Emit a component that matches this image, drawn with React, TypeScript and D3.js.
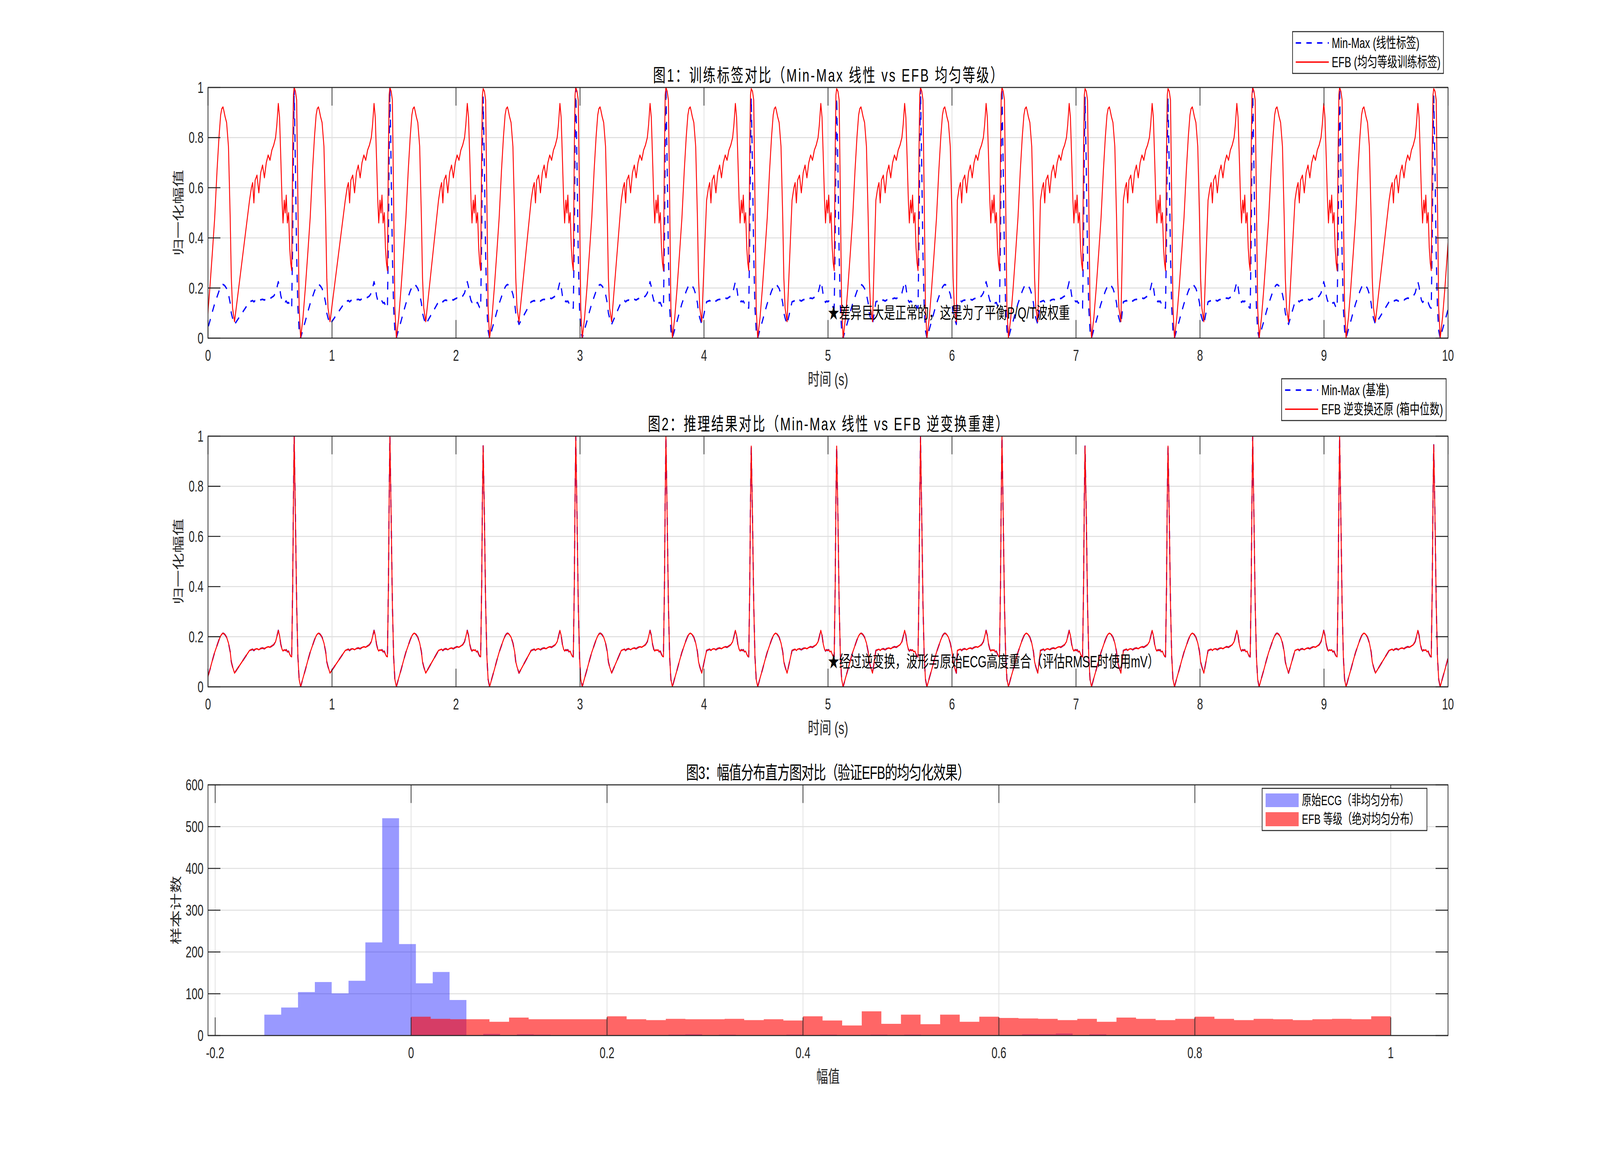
import React from 'react';
import * as d3 from 'd3';

// ---------------- DATA ----------------
// R-peak times (s) of every beat; the first one is the beat just before t=0
const rPeakTimes = [-0.075, 0.695, 1.467, 2.219, 2.966, 3.693, 4.381, 5.07, 5.746, 6.403, 7.073, 7.742, 8.425, 9.126, 9.885];
// normalised (Min-Max) height of every R peak
const rPeakMinMax = [1.0, 1.0, 1.0, 0.961, 1.0, 1.0, 0.96, 0.96, 1.0, 1.0, 0.96, 0.96, 1.0, 1.0, 0.965];
// EFB level at every R peak
const rPeakEfb = [1, 1, 1, 0.995, 1, 1, 0.995, 0.995, 1, 1, 0.995, 0.995, 1, 1, 0.995];

// samples read before each R peak (time offset to the R peak, s)
const preOffsets = [-0.36, -0.345, -0.335, -0.325, -0.315, -0.3, -0.285, -0.27, -0.255, -0.24, -0.225, -0.21, -0.195, -0.18, -0.165, -0.15, -0.14, -0.128, -0.118, -0.108, -0.098, -0.09, -0.08, -0.072, -0.064, -0.055, -0.045, -0.036, -0.028, -0.02, -0.012, -0.006];
const preMinMax = [0.145, 0.148, 0.15, 0.145, 0.15, 0.152, 0.148, 0.153, 0.155, 0.152, 0.157, 0.16, 0.158, 0.163, 0.168, 0.18, 0.2, 0.225, 0.205, 0.17, 0.15, 0.143, 0.148, 0.145, 0.148, 0.14, 0.142, 0.13, 0.122, 0.12, 0.4, 0.75];
const preEfb = [0.55, 0.6, 0.62, 0.54, 0.63, 0.65, 0.58, 0.66, 0.69, 0.64, 0.7, 0.73, 0.71, 0.75, 0.77, 0.8, 0.85, 0.936, 0.88, 0.72, 0.55, 0.46, 0.55, 0.5, 0.57, 0.46, 0.5, 0.36, 0.3, 0.27, 0.75, 0.97];

// samples read after each R peak (time offset to the R peak, s)
const postOffsets = [0.01, 0.02, 0.03, 0.04, 0.052, 0.071, 0.09, 0.11, 0.129, 0.148, 0.164, 0.177, 0.186, 0.196, 0.204, 0.212, 0.225, 0.24, 0.254, 0.263, 0.273, 0.289];
const postMinMax = [0.68, 0.33, 0.12, 0.03, 0.0, 0.035, 0.068, 0.105, 0.138, 0.165, 0.188, 0.203, 0.21, 0.214, 0.212, 0.208, 0.198, 0.175, 0.14, 0.1, 0.08, 0.055];
const postEfb = [0.985, 0.95, 0.55, 0.12, 0.0, 0.082, 0.2, 0.34, 0.48, 0.67, 0.805, 0.89, 0.915, 0.922, 0.905, 0.885, 0.86, 0.765, 0.48, 0.24, 0.12, 0.066];

const timeTicks = [0, 1, 2, 3, 4, 5, 6, 7, 8, 9, 10];
const normTicks = [0, 0.2, 0.4, 0.6, 0.8, 1];

// histogram of the raw ECG (50 bins)
const ecgBinStart = -0.1498;
const ecgBinWidth = 0.017188;
const ecgCounts = [50, 67, 104, 128, 101, 131, 223, 520, 219, 125, 152, 85,
  1, 4, 1, 3, 2, 1, 1, 1, 1, 1, 1, 1, 2, 3, 1, 2, 1, 1, 1, 2, 1, 2, 1, 1, 2, 1, 2, 1, 1, 1, 1, 1, 1, 3, 3, 5, 1, 3];
// histogram of the EFB levels (50 bins on [0,1])
const efbBinStart = 0;
const efbBinWidth = 0.02;
const efbCounts = [45, 40, 39, 39, 33, 43, 39, 39, 39, 39, 46, 39, 37, 40, 39, 39, 40, 37, 39, 36,
  46, 36, 24, 58, 28, 50, 27, 50, 33, 45, 42, 41, 40, 37, 40, 33, 43, 40, 37, 40,
  45, 40, 37, 40, 39, 37, 39, 40, 39, 46];
const histXTicks = [-0.2, 0, 0.2, 0.4, 0.6, 0.8, 1];
const histYTicks = [0, 100, 200, 300, 400, 500, 600];
const histXDomain = [-0.2073, 1.0584];

const titles = [
  '图1：训练标签对比（Min-Max 线性 vs EFB 均匀等级）',
  '图2：推理结果对比（Min-Max 线性 vs EFB 逆变换重建）',
  '图3：幅值分布直方图对比（验证EFB的均匀化效果）',
];
const titleWidths = [1312, 1351, 1064];
const legend1 = ['Min-Max (线性标签)', 'EFB (均匀等级训练标签)'];
const legend2 = ['Min-Max (基准)', 'EFB 逆变换还原 (箱中位数)'];
const legend3 = ['原始ECG（非均匀分布）', 'EFB 等级（绝对均匀分布）'];
const note1 = '★差异巨大是正常的，这是为了平衡P/Q/T波权重';
const note2 = '★经过逆变换，波形与原始ECG高度重合（评估RMSE时使用mV）';

// ---------------- helpers ----------------
type Pt = [number, number];
function buildSeries(pre: number[], post: number[], peaks: number[]): Pt[] {
  const pts: Pt[] = [];
  rPeakTimes.forEach((r, i) => {
    preOffsets.forEach((o, k) => pts.push([r + o, pre[k]]));
    pts.push([r, peaks[i]]);
    postOffsets.forEach((o, k) => pts.push([r + o, post[k]]));
  });
  return pts;
}
function histPoints(start: number, width: number, counts: number[]): Pt[] {
  const pts: Pt[] = counts.map((c, k) => [start + k * width, c] as Pt);
  pts.push([start + counts.length * width, counts[counts.length - 1]]);
  return pts;
}

const minMaxSeries = buildSeries(preMinMax, postMinMax, rPeakMinMax);
const efbSeries = buildSeries(preEfb, postEfb, rPeakEfb);

const FONT = "'Liberation Sans', Arial, 'Noto Sans CJK SC', sans-serif";
const AX = '#262626';
const GRID = '#dfdfdf';
const LEFT = 780, RIGHT = 5430, PH = 642;
const TOPS = [224, 1117, 2010];
const TICKLEN = 46.5;
const AXW = 2.6;

function Frame(props: {
  xs: d3.ScaleLinear<number, number>; ys: d3.ScaleLinear<number, number>;
  xTicks: number[]; yTicks: number[]; top: number; id: string;
  title: string; titleW: number; xLabel: string; yLabel: string; yLabelX: number; children?: any;
}) {
  const { xs, ys, xTicks, yTicks, top, id, title, titleW, xLabel, yLabel, yLabelX, children } = props;
  const bottom = top + PH;
  return (
    <g>
      <defs>
        <clipPath id={id}><rect x={LEFT} y={top} width={RIGHT - LEFT} height={PH} /></clipPath>
      </defs>
      <g stroke={GRID} strokeWidth={AXW}>
        {xTicks.map((t) => <line key={'gx' + t} x1={xs(t)} x2={xs(t)} y1={top} y2={bottom} />)}
        {yTicks.map((t) => <line key={'gy' + t} x1={LEFT} x2={RIGHT} y1={ys(t)} y2={ys(t)} />)}
      </g>
      <g clipPath={`url(#${id})`}>{children}</g>
      <rect x={LEFT} y={top} width={RIGHT - LEFT} height={PH} fill="none" stroke={AX} strokeWidth={AXW} />
      <g stroke={AX} strokeWidth={AXW}>
        {xTicks.map((t) => (
          <g key={'tx' + t}>
            <line x1={xs(t)} x2={xs(t)} y1={bottom} y2={bottom - TICKLEN} />
            <line x1={xs(t)} x2={xs(t)} y1={top} y2={top + TICKLEN} />
          </g>
        ))}
        {yTicks.map((t) => (
          <g key={'ty' + t}>
            <line x1={LEFT} x2={LEFT + TICKLEN} y1={ys(t)} y2={ys(t)} />
            <line x1={RIGHT} x2={RIGHT - TICKLEN} y1={ys(t)} y2={ys(t)} />
          </g>
        ))}
      </g>
      <g fill={AX} fontSize={40} fontFamily={FONT}>
        {xTicks.map((t) => (
          <text key={'lx' + t} x={xs(t)} y={bottom + 58} textAnchor="middle">{String(t)}</text>
        ))}
        {yTicks.map((t) => (
          <text key={'ly' + t} x={LEFT - 17} y={ys(t)} textAnchor="end" dominantBaseline="central">{String(t)}</text>
        ))}
      </g>
      <text x={(LEFT + RIGHT) / 2} y={top - 15} textAnchor="middle" fontSize={47} fontFamily={FONT} fill="#000"
        textLength={titleW} lengthAdjust="spacing">{title}</text>
      <text x={(LEFT + RIGHT) / 2} y={bottom + 106} textAnchor="middle" dominantBaseline="central" fontSize={44} fontFamily={FONT} fill={AX}>{xLabel}</text>
      <text transform={`translate(${yLabelX},${top + PH / 2}) rotate(-90)`} textAnchor="middle" dominantBaseline="central" fontSize={44} fontFamily={FONT} fill={AX}>{yLabel}</text>
    </g>
  );
}

function LineLegend(props: { x0: number; y0: number; x1: number; y1: number; lx0: number; lx1: number; tx: number; rows: number[]; labels: string[] }) {
  const { x0, y0, x1, y1, lx0, lx1, tx, rows, labels } = props;
  return (
    <g>
      <rect x={x0} y={y0} width={x1 - x0} height={y1 - y0} fill="#fff" stroke={AX} strokeWidth={AXW} />
      <line x1={lx0} x2={lx1} y1={rows[0]} y2={rows[0]} stroke="#0000ff" strokeWidth={4.2} strokeDasharray="20 20" />
      <line x1={lx0} x2={lx1} y1={rows[1]} y2={rows[1]} stroke="#ff0000" strokeWidth={3.4} />
      {labels.map((l, i) => (
        <text key={i} x={tx} y={rows[i]} dominantBaseline="central" fontSize={37.5} fontFamily={FONT} fill="#000">{l}</text>
      ))}
    </g>
  );
}

export default function App() {
  const xs = d3.scaleLinear().domain([0, 10]).range([LEFT, RIGHT]);
  const y1 = d3.scaleLinear().domain([0, 1]).range([TOPS[0] + PH, TOPS[0]]);
  const y2 = d3.scaleLinear().domain([0, 1]).range([TOPS[1] + PH, TOPS[1]]);
  const hx = d3.scaleLinear().domain(histXDomain).range([LEFT, RIGHT]);
  const hy = d3.scaleLinear().domain([0, 600]).range([TOPS[2] + PH, TOPS[2]]);

  const line1 = d3.line<Pt>().x((d) => xs(d[0])).y((d) => y1(d[1]));
  const line2 = d3.line<Pt>().x((d) => xs(d[0])).y((d) => y2(d[1]));
  const area = d3.area<Pt>().x((d) => hx(d[0])).y0(hy(0)).y1((d) => hy(d[1])).curve(d3.curveStepAfter);

  const ecgPath = area(histPoints(ecgBinStart, ecgBinWidth, ecgCounts)) || '';
  const efbPath = area(histPoints(efbBinStart, efbBinWidth, efbCounts)) || '';

  return (
    <svg viewBox="0 0 6000 2981" preserveAspectRatio="none"
      style={{ position: 'fixed', left: 0, top: 0, width: '100vw', height: '100vh', background: '#fff', display: 'block' }}>
      <rect x={0} y={0} width={6000} height={2981} fill="#fff" />
      <Frame xs={xs} ys={y1} xTicks={timeTicks} yTicks={normTicks} top={TOPS[0]} id="c1"
        title={titles[0]} titleW={titleWidths[0]} xLabel="时间 (s)" yLabel="归一化幅值" yLabelX={669}>
        <path d={line1(minMaxSeries) || ''} fill="none" stroke="#0000ff" strokeWidth={4.2} strokeDasharray="20 20" strokeLinejoin="round" />
        <path d={line1(efbSeries) || ''} fill="none" stroke="#ff0000" strokeWidth={3.4} strokeLinejoin="round" />
      </Frame>
      <text x={xs(5)} y={y1(0.1)} dominantBaseline="central" fontSize={42} fontFamily={FONT} fill="#000">{note1}</text>

      <Frame xs={xs} ys={y2} xTicks={timeTicks} yTicks={normTicks} top={TOPS[1]} id="c2"
        title={titles[1]} titleW={titleWidths[1]} xLabel="时间 (s)" yLabel="归一化幅值" yLabelX={669}>
        <path d={line2(minMaxSeries) || ''} fill="none" stroke="#0000ff" strokeWidth={4.2} strokeDasharray="20 20" strokeLinejoin="round" />
        <path d={line2(minMaxSeries) || ''} fill="none" stroke="#ff0000" strokeWidth={3.4} strokeLinejoin="round" />
      </Frame>
      <text x={xs(5)} y={y2(0.1)} dominantBaseline="central" fontSize={42} fontFamily={FONT} fill="#000">{note2}</text>

      <Frame xs={hx} ys={hy} xTicks={histXTicks} yTicks={histYTicks} top={TOPS[2]} id="c3"
        title={titles[2]} titleW={titleWidths[2]} xLabel="幅值" yLabel="样本计数" yLabelX={660}>
        <path d={ecgPath} fill="#0000ff" fillOpacity={0.4} />
        <path d={efbPath} fill="#ff0000" fillOpacity={0.6} />
      </Frame>

      <LineLegend x0={4847} y0={81} x1={5413} y1={188} lx0={4859} lx1={4983} tx={4994} rows={[110, 159]} labels={legend1} />
      <LineLegend x0={4806} y0={970} x1={5423} y1={1077} lx0={4819} lx1={4943} tx={4955} rows={[999, 1048]} labels={legend2} />
      <g>
        <rect x={4733} y={2019} width={5351 - 4733} height={2127 - 2019} fill="#fff" stroke={AX} strokeWidth={AXW} />
        <rect x={4746} y={2032} width={124} height={35} fill="#0000ff" fillOpacity={0.4} />
        <rect x={4746} y={2080} width={124} height={36} fill="#ff0000" fillOpacity={0.6} />
        {legend3.map((l, i) => (
          <text key={i} x={4882} y={[2050, 2098][i]} dominantBaseline="central" fontSize={36} fontFamily={FONT} fill="#000">{l}</text>
        ))}
      </g>
    </svg>
  );
}
